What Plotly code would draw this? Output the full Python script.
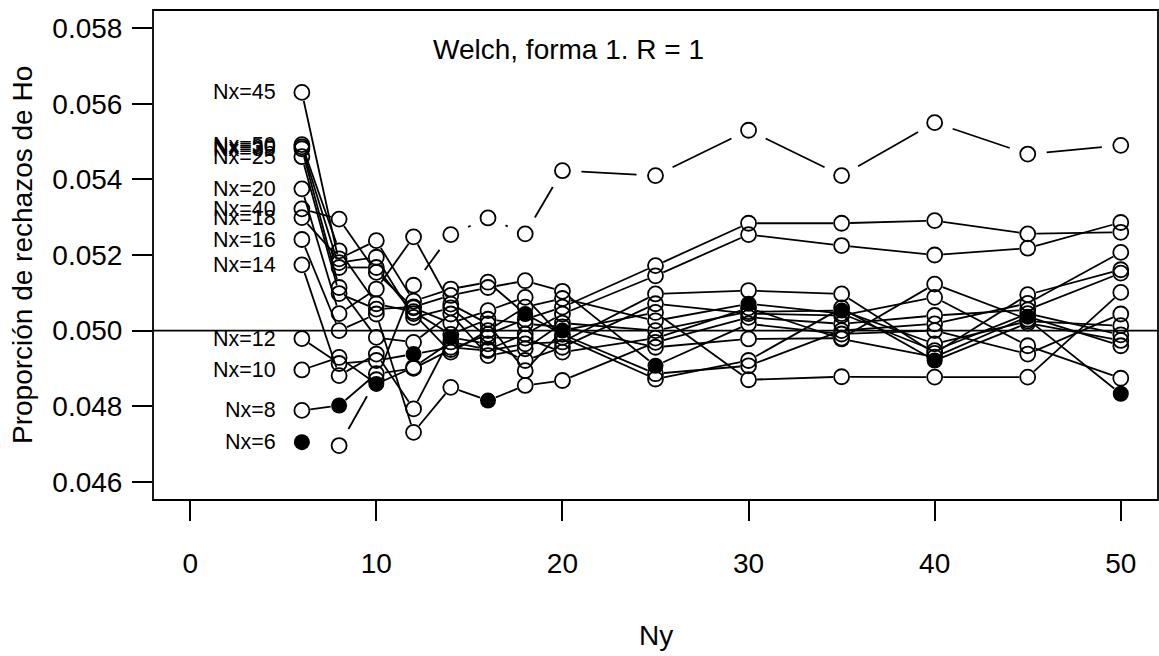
import plotly.graph_objects as go
import math

ny = [6, 8, 10, 12, 14, 16, 18, 20, 25, 30, 35, 40, 45, 50]
nx_list = [6, 8, 10, 12, 14, 16, 18, 20, 25, 30, 35, 40, 45, 50]

nx6 = [0.04705, 0.04696, 0.0487, 0.0512, 0.05254, 0.05298, 0.05256, 0.05423, 0.0541, 0.0553, 0.0541, 0.0555, 0.05467, 0.0549]
nx8 = [0.04789, 0.04802, 0.04886, 0.0490, 0.0495, 0.0499, 0.0503, 0.05062, 0.05172, 0.05284, 0.05284, 0.05291, 0.05256, 0.0526]
nx10 = [0.04896, 0.04929, 0.04859, 0.04903, 0.0497, 0.0495, 0.04991, 0.05044, 0.05145, 0.05254, 0.05225, 0.0520, 0.05218, 0.05286]
nx12 = [0.04979, 0.04913, 0.04921, 0.04938, 0.04956, 0.04947, 0.04965, 0.0497, 0.05097, 0.05106, 0.05097, 0.0494, 0.05095, 0.05161]
nx14 = [0.05174, 0.04881, 0.04938, 0.04793, 0.04982, 0.04965, 0.04921, 0.04956, 0.05071, 0.05045, 0.0504, 0.05088, 0.0496, 0.04874]
nx16 = [0.05241, 0.0500, 0.05044, 0.04731, 0.0485, 0.04815, 0.04855, 0.04868, 0.04969, 0.05035, 0.05018, 0.0504, 0.05055, 0.05152]
nx18 = [0.05299, 0.0519, 0.05238, 0.05078, 0.0511, 0.05128, 0.05044, 0.0499, 0.04886, 0.04907, 0.0500, 0.05018, 0.05072, 0.05207]
nx20 = [0.05375, 0.05045, 0.0511, 0.05248, 0.0507, 0.05018, 0.04894, 0.05000, 0.05048, 0.0487, 0.04878, 0.04877, 0.04877, 0.05101]
nx25 = [0.0546, 0.05098, 0.05057, 0.05063, 0.05093, 0.05114, 0.05132, 0.05104, 0.04907, 0.05018, 0.04991, 0.0500, 0.04938, 0.05044]
nx30 = [0.05486, 0.05167, 0.05167, 0.05045, 0.04943, 0.0500, 0.05062, 0.05085, 0.05026, 0.05071, 0.05045, 0.04947, 0.05045, 0.04989]
nx35 = [0.05481, 0.05114, 0.04982, 0.04969, 0.05044, 0.04934, 0.04952, 0.0502, 0.0500, 0.0505, 0.05053, 0.04965, 0.05025, 0.05013]
nx40 = [0.05322, 0.05295, 0.05154, 0.0506, 0.0502, 0.05053, 0.05088, 0.04982, 0.04872, 0.04921, 0.0506, 0.04921, 0.0502, 0.04974]
nx45 = [0.0563, 0.0518, 0.05194, 0.05035, 0.0506, 0.04982, 0.0498, 0.04943, 0.0498, 0.0506, 0.04978, 0.0493, 0.05037, 0.0496]
nx50 = [0.05492, 0.05211, 0.05071, 0.0505, 0.0499, 0.0503, 0.05018, 0.0501, 0.04956, 0.04978, 0.0498, 0.05123, 0.0503, 0.04833]

series = [nx6, nx8, nx10, nx12, nx14, nx16, nx18, nx20, nx25, nx30, nx35, nx40, nx45, nx50]

ytick_vals = [0.046, 0.048, 0.050, 0.052, 0.054, 0.056, 0.058]
ytick_text = ["0.046", "0.048", "0.050", "0.052", "0.054", "0.056", "0.058"]
xtick_vals = [0, 10, 20, 30, 40, 50]

title_text = "Welch, forma 1. R = 1"
xlab = "Ny"
ylab = "Proporción de rechazos de Ho"

# plot geometry (pixels)
W, H = 1159, 656
L, R, T, B = 153, 1, 10, 156
XR = [-2, 52]
YR = [0.04552, 0.05848]
pw = W - L - R
ph = H - T - B

def to_px(x, y):
    return ((x - XR[0]) / (XR[1] - XR[0]) * pw, (y - YR[0]) / (YR[1] - YR[0]) * ph)

def to_data(px, py):
    return (XR[0] + px / pw * (XR[1] - XR[0]), YR[0] + py / ph * (YR[1] - YR[0]))

FONT = "Liberation Sans, Arial, sans-serif"
FS = 28
LW = 1.8
fig = go.Figure()

# lines with gaps around points (R type="b")
for nx, vals in zip(nx_list, series):
    gap = 19 if nx == 6 else 8.5
    xs, ys = [], []
    for i in range(len(ny) - 1):
        p0 = to_px(ny[i], vals[i])
        p1 = to_px(ny[i + 1], vals[i + 1])
        dx, dy = p1[0] - p0[0], p1[1] - p0[1]
        d = math.hypot(dx, dy)
        if d <= 2 * gap:
            continue
        ux, uy = dx / d, dy / d
        a = to_data(p0[0] + ux * gap, p0[1] + uy * gap)
        b = to_data(p1[0] - ux * gap, p1[1] - uy * gap)
        xs += [a[0], b[0], None]
        ys += [a[1], b[1], None]
    fig.add_trace(go.Scatter(x=xs, y=ys, mode="lines", line=dict(color="black", width=LW),
                             showlegend=False, hoverinfo="skip"))

# markers
for nx, vals in zip(nx_list, series):
    ox = [n for n, v in zip(ny, vals) if n != nx]
    oy = [v for n, v in zip(ny, vals) if n != nx]
    fx = [n for n, v in zip(ny, vals) if n == nx]
    fy = [v for n, v in zip(ny, vals) if n == nx]
    fig.add_trace(go.Scatter(x=ox, y=oy, mode="markers",
                             marker=dict(symbol="circle-open", size=15, color="black", line=dict(width=LW)),
                             showlegend=False, name="Nx=%d" % nx))
    fig.add_trace(go.Scatter(x=fx, y=fy, mode="markers",
                             marker=dict(symbol="circle", size=16, color="black", line=dict(width=0)),
                             showlegend=False, name="Nx=%d" % nx))

annotations = []
for nx, vals in zip(nx_list, series):
    annotations.append(dict(x=ny[0], y=vals[0], xref="x", yref="y", text="Nx=%d" % nx,
                            showarrow=False, xanchor="right", yanchor="middle", xshift=-24,
                            font=dict(family=FONT, size=21.5, color="black")))

annotations.append(dict(x=(568 - L) / pw, y=(H - B - 50) / ph, xref="paper", yref="paper",
                        text=title_text, showarrow=False, xanchor="center", yanchor="middle",
                        font=dict(family=FONT, size=FS, color="black")))
annotations.append(dict(x=0.5, y=-(635 - (H - B)) / ph, xref="paper", yref="paper",
                        text=xlab, showarrow=False, xanchor="center", yanchor="middle",
                        font=dict(family=FONT, size=FS, color="black")))
annotations.append(dict(x=-(L - 22) / pw, y=0.5, xref="paper", yref="paper",
                        text=ylab, showarrow=False, xanchor="center", yanchor="middle", textangle=-90,
                        font=dict(family=FONT, size=FS, color="black")))

shapes = [
    dict(type="rect", xref="paper", yref="paper", x0=0, x1=1, y0=0, y1=1,
         line=dict(color="black", width=LW)),
    dict(type="line", xref="paper", yref="y", x0=0, x1=1, y0=0.05, y1=0.05,
         line=dict(color="black", width=LW)),
]

fig.update_layout(
    width=W, height=H,
    margin=dict(l=L, r=R, t=T, b=B, pad=0),
    paper_bgcolor="white", plot_bgcolor="white",
    annotations=annotations, shapes=shapes,
    font=dict(family=FONT, color="black"),
    xaxis=dict(range=XR, tickvals=xtick_vals, ticks="outside", ticklen=20, tickwidth=LW,
               tickcolor="black", showgrid=False, zeroline=False, showline=False,
               tickfont=dict(family=FONT, size=FS, color="black"), ticklabelstandoff=18),
    yaxis=dict(range=YR, tickvals=ytick_vals, ticktext=ytick_text, ticks="outside", ticklen=20,
               tickwidth=LW, tickcolor="black", showgrid=False, zeroline=False, showline=False,
               tickfont=dict(family=FONT, size=FS, color="black"), ticklabelstandoff=4),
)

fig.write_html("out.html")
